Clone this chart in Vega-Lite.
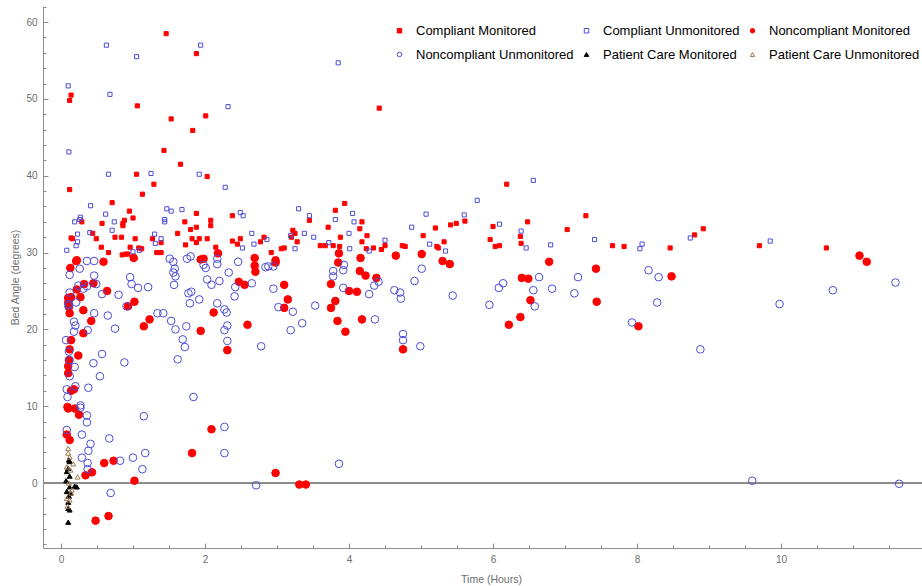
{
  "$schema": "https://vega.github.io/schema/vega-lite/v6.json",
  "width": 879,
  "height": 542,
  "autosize": {"type": "none"},
  "padding": {"left": 43, "top": 6, "right": 0, "bottom": 38},
  "background": "white",
  "config": {
    "view": {"stroke": null},
    "font": "Liberation Sans",
    "axis": {
      "domainColor": "#8c8c8c",
      "tickColor": "#8c8c8c",
      "labelColor": "#6e6e6e",
      "labelFont": "Liberation Sans",
      "labelFontSize": 10,
      "titleFont": "Liberation Sans",
      "titleFontSize": 10.5,
      "titleFontWeight": "normal",
      "titleColor": "#6e6e6e",
      "grid": false,
      "labelFlush": false,
      "labelOverlap": false
    }
  },
  "data": {
    "values": [
      {"t":0.12,"a":49.8,"g":"Compliant Monitored"},{"t":0.14,"a":50.5,"g":"Compliant Monitored"},{"t":0.12,"a":38.2,"g":"Compliant Monitored"},{"t":0.14,"a":31.9,"g":"Compliant Monitored"},{"t":0.16,"a":31.8,"g":"Compliant Monitored"},{"t":0.66,"a":30.0,"g":"Compliant Monitored"},{"t":1.46,"a":58.5,"g":"Compliant Monitored"},{"t":1.88,"a":55.9,"g":"Compliant Monitored"},{"t":1.06,"a":49.1,"g":"Compliant Monitored"},{"t":1.53,"a":47.4,"g":"Compliant Monitored"},{"t":2.01,"a":47.8,"g":"Compliant Monitored"},{"t":1.83,"a":45.9,"g":"Compliant Monitored"},{"t":1.43,"a":43.3,"g":"Compliant Monitored"},{"t":1.66,"a":41.5,"g":"Compliant Monitored"},{"t":1.05,"a":40.2,"g":"Compliant Monitored"},{"t":2.03,"a":39.9,"g":"Compliant Monitored"},{"t":1.29,"a":38.9,"g":"Compliant Monitored"},{"t":1.13,"a":37.6,"g":"Compliant Monitored"},{"t":0.71,"a":36.5,"g":"Compliant Monitored"},{"t":0.95,"a":35.4,"g":"Compliant Monitored"},{"t":1.00,"a":34.5,"g":"Compliant Monitored"},{"t":0.88,"a":34.2,"g":"Compliant Monitored"},{"t":0.86,"a":33.8,"g":"Compliant Monitored"},{"t":0.86,"a":33.5,"g":"Compliant Monitored"},{"t":0.57,"a":33.8,"g":"Compliant Monitored"},{"t":0.29,"a":34.0,"g":"Compliant Monitored"},{"t":0.44,"a":32.5,"g":"Compliant Monitored"},{"t":0.49,"a":31.8,"g":"Compliant Monitored"},{"t":0.75,"a":32.0,"g":"Compliant Monitored"},{"t":0.84,"a":32.0,"g":"Compliant Monitored"},{"t":1.03,"a":31.8,"g":"Compliant Monitored"},{"t":0.56,"a":30.7,"g":"Compliant Monitored"},{"t":0.85,"a":29.7,"g":"Compliant Monitored"},{"t":0.90,"a":29.8,"g":"Compliant Monitored"},{"t":0.93,"a":29.8,"g":"Compliant Monitored"},{"t":0.96,"a":30.7,"g":"Compliant Monitored"},{"t":1.08,"a":30.6,"g":"Compliant Monitored"},{"t":1.12,"a":30.5,"g":"Compliant Monitored"},{"t":1.27,"a":31.8,"g":"Compliant Monitored"},{"t":1.39,"a":31.3,"g":"Compliant Monitored"},{"t":1.33,"a":30.0,"g":"Compliant Monitored"},{"t":1.39,"a":30.0,"g":"Compliant Monitored"},{"t":1.62,"a":32.5,"g":"Compliant Monitored"},{"t":1.72,"a":34.0,"g":"Compliant Monitored"},{"t":1.73,"a":31.0,"g":"Compliant Monitored"},{"t":1.80,"a":33.0,"g":"Compliant Monitored"},{"t":1.82,"a":31.8,"g":"Compliant Monitored"},{"t":1.88,"a":35.1,"g":"Compliant Monitored"},{"t":1.88,"a":33.3,"g":"Compliant Monitored"},{"t":1.88,"a":31.3,"g":"Compliant Monitored"},{"t":1.92,"a":31.8,"g":"Compliant Monitored"},{"t":2.03,"a":31.8,"g":"Compliant Monitored"},{"t":2.08,"a":34.2,"g":"Compliant Monitored"},{"t":2.08,"a":33.5,"g":"Compliant Monitored"},{"t":2.15,"a":30.7,"g":"Compliant Monitored"},{"t":2.38,"a":34.8,"g":"Compliant Monitored"},{"t":2.38,"a":31.5,"g":"Compliant Monitored"},{"t":2.45,"a":31.1,"g":"Compliant Monitored"},{"t":2.49,"a":31.8,"g":"Compliant Monitored"},{"t":2.77,"a":31.4,"g":"Compliant Monitored"},{"t":2.82,"a":32.0,"g":"Compliant Monitored"},{"t":2.92,"a":30.0,"g":"Compliant Monitored"},{"t":3.06,"a":30.5,"g":"Compliant Monitored"},{"t":3.10,"a":30.6,"g":"Compliant Monitored"},{"t":3.22,"a":32.9,"g":"Compliant Monitored"},{"t":3.25,"a":32.5,"g":"Compliant Monitored"},{"t":3.28,"a":31.4,"g":"Compliant Monitored"},{"t":3.20,"a":32.0,"g":"Compliant Monitored"},{"t":4.42,"a":48.8,"g":"Compliant Monitored"},{"t":6.19,"a":38.9,"g":"Compliant Monitored"},{"t":3.94,"a":36.4,"g":"Compliant Monitored"},{"t":3.81,"a":35.5,"g":"Compliant Monitored"},{"t":3.45,"a":34.2,"g":"Compliant Monitored"},{"t":3.71,"a":33.3,"g":"Compliant Monitored"},{"t":3.88,"a":32.0,"g":"Compliant Monitored"},{"t":4.15,"a":33.1,"g":"Compliant Monitored"},{"t":4.18,"a":34.0,"g":"Compliant Monitored"},{"t":4.25,"a":32.2,"g":"Compliant Monitored"},{"t":4.18,"a":31.4,"g":"Compliant Monitored"},{"t":3.60,"a":30.9,"g":"Compliant Monitored"},{"t":3.67,"a":30.9,"g":"Compliant Monitored"},{"t":3.78,"a":30.9,"g":"Compliant Monitored"},{"t":3.87,"a":30.8,"g":"Compliant Monitored"},{"t":4.24,"a":30.5,"g":"Compliant Monitored"},{"t":4.34,"a":30.6,"g":"Compliant Monitored"},{"t":4.45,"a":30.4,"g":"Compliant Monitored"},{"t":4.50,"a":30.9,"g":"Compliant Monitored"},{"t":4.74,"a":30.9,"g":"Compliant Monitored"},{"t":4.78,"a":30.8,"g":"Compliant Monitored"},{"t":5.03,"a":32.2,"g":"Compliant Monitored"},{"t":5.20,"a":33.2,"g":"Compliant Monitored"},{"t":5.22,"a":30.8,"g":"Compliant Monitored"},{"t":5.24,"a":30.6,"g":"Compliant Monitored"},{"t":5.32,"a":31.4,"g":"Compliant Monitored"},{"t":5.41,"a":33.6,"g":"Compliant Monitored"},{"t":5.49,"a":33.8,"g":"Compliant Monitored"},{"t":5.61,"a":34.1,"g":"Compliant Monitored"},{"t":6.00,"a":33.4,"g":"Compliant Monitored"},{"t":5.96,"a":31.7,"g":"Compliant Monitored"},{"t":6.03,"a":30.8,"g":"Compliant Monitored"},{"t":6.09,"a":30.9,"g":"Compliant Monitored"},{"t":6.38,"a":32.1,"g":"Compliant Monitored"},{"t":6.39,"a":31.2,"g":"Compliant Monitored"},{"t":6.48,"a":34.0,"g":"Compliant Monitored"},{"t":7.03,"a":33.0,"g":"Compliant Monitored"},{"t":7.29,"a":34.8,"g":"Compliant Monitored"},{"t":7.66,"a":30.9,"g":"Compliant Monitored"},{"t":7.82,"a":30.8,"g":"Compliant Monitored"},{"t":8.46,"a":30.6,"g":"Compliant Monitored"},{"t":8.80,"a":32.3,"g":"Compliant Monitored"},{"t":8.92,"a":33.1,"g":"Compliant Monitored"},{"t":9.70,"a":30.9,"g":"Compliant Monitored"},{"t":10.63,"a":30.6,"g":"Compliant Monitored"},

      {"t":0.10,"a":51.7,"g":"Compliant Unmonitored"},{"t":0.11,"a":43.1,"g":"Compliant Unmonitored"},{"t":0.08,"a":30.3,"g":"Compliant Unmonitored"},{"t":0.63,"a":57.0,"g":"Compliant Unmonitored"},{"t":0.68,"a":50.6,"g":"Compliant Unmonitored"},{"t":0.66,"a":40.2,"g":"Compliant Unmonitored"},{"t":1.05,"a":55.5,"g":"Compliant Unmonitored"},{"t":1.25,"a":40.3,"g":"Compliant Unmonitored"},{"t":1.94,"a":57.0,"g":"Compliant Unmonitored"},{"t":1.92,"a":40.2,"g":"Compliant Unmonitored"},{"t":2.32,"a":49.0,"g":"Compliant Unmonitored"},{"t":2.28,"a":38.5,"g":"Compliant Unmonitored"},{"t":0.19,"a":34.0,"g":"Compliant Unmonitored"},{"t":0.26,"a":34.3,"g":"Compliant Unmonitored"},{"t":0.27,"a":34.6,"g":"Compliant Unmonitored"},{"t":0.23,"a":32.4,"g":"Compliant Unmonitored"},{"t":0.23,"a":31.4,"g":"Compliant Unmonitored"},{"t":0.21,"a":30.9,"g":"Compliant Unmonitored"},{"t":0.41,"a":36.1,"g":"Compliant Unmonitored"},{"t":0.40,"a":32.6,"g":"Compliant Unmonitored"},{"t":0.62,"a":35.0,"g":"Compliant Unmonitored"},{"t":0.74,"a":34.0,"g":"Compliant Unmonitored"},{"t":0.71,"a":32.9,"g":"Compliant Unmonitored"},{"t":1.00,"a":30.1,"g":"Compliant Unmonitored"},{"t":1.09,"a":30.3,"g":"Compliant Unmonitored"},{"t":1.30,"a":32.4,"g":"Compliant Unmonitored"},{"t":1.31,"a":31.2,"g":"Compliant Unmonitored"},{"t":1.39,"a":31.8,"g":"Compliant Unmonitored"},{"t":1.44,"a":34.3,"g":"Compliant Unmonitored"},{"t":1.44,"a":34.0,"g":"Compliant Unmonitored"},{"t":1.47,"a":35.7,"g":"Compliant Unmonitored"},{"t":1.53,"a":35.4,"g":"Compliant Unmonitored"},{"t":1.68,"a":35.6,"g":"Compliant Unmonitored"},{"t":2.49,"a":35.2,"g":"Compliant Unmonitored"},{"t":2.53,"a":34.8,"g":"Compliant Unmonitored"},{"t":2.52,"a":30.6,"g":"Compliant Unmonitored"},{"t":2.65,"a":32.5,"g":"Compliant Unmonitored"},{"t":2.68,"a":31.1,"g":"Compliant Unmonitored"},{"t":2.86,"a":31.7,"g":"Compliant Unmonitored"},{"t":3.19,"a":32.2,"g":"Compliant Unmonitored"},{"t":3.25,"a":30.5,"g":"Compliant Unmonitored"},{"t":3.30,"a":35.7,"g":"Compliant Unmonitored"},{"t":3.85,"a":54.7,"g":"Compliant Unmonitored"},{"t":6.56,"a":39.4,"g":"Compliant Unmonitored"},{"t":5.78,"a":36.8,"g":"Compliant Unmonitored"},{"t":3.45,"a":34.8,"g":"Compliant Unmonitored"},{"t":3.81,"a":34.3,"g":"Compliant Unmonitored"},{"t":4.05,"a":35.1,"g":"Compliant Unmonitored"},{"t":4.07,"a":34.0,"g":"Compliant Unmonitored"},{"t":4.00,"a":32.5,"g":"Compliant Unmonitored"},{"t":3.38,"a":32.5,"g":"Compliant Unmonitored"},{"t":3.51,"a":32.0,"g":"Compliant Unmonitored"},{"t":3.72,"a":31.3,"g":"Compliant Unmonitored"},{"t":4.01,"a":30.5,"g":"Compliant Unmonitored"},{"t":4.28,"a":30.2,"g":"Compliant Unmonitored"},{"t":4.50,"a":31.6,"g":"Compliant Unmonitored"},{"t":4.87,"a":33.3,"g":"Compliant Unmonitored"},{"t":5.07,"a":35.0,"g":"Compliant Unmonitored"},{"t":5.12,"a":31.1,"g":"Compliant Unmonitored"},{"t":5.34,"a":30.2,"g":"Compliant Unmonitored"},{"t":5.60,"a":34.9,"g":"Compliant Unmonitored"},{"t":6.09,"a":33.7,"g":"Compliant Unmonitored"},{"t":6.39,"a":32.8,"g":"Compliant Unmonitored"},{"t":6.46,"a":30.6,"g":"Compliant Unmonitored"},{"t":6.80,"a":31.0,"g":"Compliant Unmonitored"},{"t":7.41,"a":31.7,"g":"Compliant Unmonitored"},{"t":8.07,"a":31.1,"g":"Compliant Unmonitored"},{"t":8.04,"a":30.5,"g":"Compliant Unmonitored"},{"t":8.74,"a":31.9,"g":"Compliant Unmonitored"},{"t":9.85,"a":31.5,"g":"Compliant Unmonitored"},

      {"t":0.13,"a":28.0,"g":"Noncompliant Monitored"},{"t":0.21,"a":28.9,"g":"Noncompliant Monitored"},{"t":0.22,"a":29.0,"g":"Noncompliant Monitored"},{"t":0.59,"a":28.8,"g":"Noncompliant Monitored"},{"t":1.01,"a":29.3,"g":"Noncompliant Monitored"},{"t":1.94,"a":29.1,"g":"Noncompliant Monitored"},{"t":1.98,"a":29.2,"g":"Noncompliant Monitored"},{"t":2.18,"a":29.9,"g":"Noncompliant Monitored"},{"t":2.69,"a":29.3,"g":"Noncompliant Monitored"},{"t":2.69,"a":28.3,"g":"Noncompliant Monitored"},{"t":2.70,"a":27.5,"g":"Noncompliant Monitored"},{"t":2.98,"a":29.0,"g":"Noncompliant Monitored"},{"t":2.98,"a":28.7,"g":"Noncompliant Monitored"},{"t":3.10,"a":25.8,"g":"Noncompliant Monitored"},{"t":0.64,"a":25.0,"g":"Noncompliant Monitored"},{"t":0.22,"a":25.2,"g":"Noncompliant Monitored"},{"t":0.32,"a":25.9,"g":"Noncompliant Monitored"},{"t":0.45,"a":26.0,"g":"Noncompliant Monitored"},{"t":0.10,"a":24.1,"g":"Noncompliant Monitored"},{"t":0.14,"a":24.2,"g":"Noncompliant Monitored"},{"t":0.10,"a":23.5,"g":"Noncompliant Monitored"},{"t":0.11,"a":22.9,"g":"Noncompliant Monitored"},{"t":0.12,"a":22.1,"g":"Noncompliant Monitored"},{"t":3.15,"a":23.9,"g":"Noncompliant Monitored"},{"t":2.47,"a":26.2,"g":"Noncompliant Monitored"},{"t":2.55,"a":25.8,"g":"Noncompliant Monitored"},{"t":0.27,"a":24.2,"g":"Noncompliant Monitored"},{"t":0.31,"a":22.5,"g":"Noncompliant Monitored"},{"t":0.42,"a":21.1,"g":"Noncompliant Monitored"},{"t":0.31,"a":19.5,"g":"Noncompliant Monitored"},{"t":0.14,"a":18.6,"g":"Noncompliant Monitored"},{"t":0.12,"a":17.4,"g":"Noncompliant Monitored"},{"t":0.11,"a":16.0,"g":"Noncompliant Monitored"},{"t":0.24,"a":16.6,"g":"Noncompliant Monitored"},{"t":0.10,"a":15.2,"g":"Noncompliant Monitored"},{"t":0.10,"a":14.3,"g":"Noncompliant Monitored"},{"t":0.14,"a":12.0,"g":"Noncompliant Monitored"},{"t":0.18,"a":12.2,"g":"Noncompliant Monitored"},{"t":0.09,"a":9.9,"g":"Noncompliant Monitored"},{"t":0.10,"a":9.7,"g":"Noncompliant Monitored"},{"t":0.19,"a":9.7,"g":"Noncompliant Monitored"},{"t":0.25,"a":8.9,"g":"Noncompliant Monitored"},{"t":0.08,"a":6.3,"g":"Noncompliant Monitored"},{"t":0.12,"a":5.6,"g":"Noncompliant Monitored"},{"t":0.34,"a":1.0,"g":"Noncompliant Monitored"},{"t":0.43,"a":1.4,"g":"Noncompliant Monitored"},{"t":0.60,"a":2.6,"g":"Noncompliant Monitored"},{"t":0.73,"a":2.9,"g":"Noncompliant Monitored"},{"t":1.02,"a":0.3,"g":"Noncompliant Monitored"},{"t":0.48,"a":-4.9,"g":"Noncompliant Monitored"},{"t":0.66,"a":-4.3,"g":"Noncompliant Monitored"},{"t":0.93,"a":23.0,"g":"Noncompliant Monitored"},{"t":1.02,"a":23.6,"g":"Noncompliant Monitored"},{"t":1.15,"a":20.4,"g":"Noncompliant Monitored"},{"t":1.23,"a":21.3,"g":"Noncompliant Monitored"},{"t":1.94,"a":19.8,"g":"Noncompliant Monitored"},{"t":2.12,"a":22.2,"g":"Noncompliant Monitored"},{"t":2.31,"a":17.3,"g":"Noncompliant Monitored"},{"t":2.59,"a":20.6,"g":"Noncompliant Monitored"},{"t":2.09,"a":7.0,"g":"Noncompliant Monitored"},{"t":1.82,"a":3.9,"g":"Noncompliant Monitored"},{"t":2.98,"a":1.3,"g":"Noncompliant Monitored"},{"t":3.31,"a":-0.2,"g":"Noncompliant Monitored"},{"t":3.40,"a":-0.2,"g":"Noncompliant Monitored"},{"t":3.10,"a":22.8,"g":"Noncompliant Monitored"},{"t":4.16,"a":29.3,"g":"Noncompliant Monitored"},{"t":4.65,"a":29.6,"g":"Noncompliant Monitored"},{"t":5.01,"a":29.8,"g":"Noncompliant Monitored"},{"t":5.30,"a":28.9,"g":"Noncompliant Monitored"},{"t":5.40,"a":28.5,"g":"Noncompliant Monitored"},{"t":6.78,"a":28.8,"g":"Noncompliant Monitored"},{"t":7.43,"a":27.9,"g":"Noncompliant Monitored"},{"t":3.86,"a":29.9,"g":"Noncompliant Monitored"},{"t":3.85,"a":28.7,"g":"Noncompliant Monitored"},{"t":4.15,"a":27.6,"g":"Noncompliant Monitored"},{"t":4.23,"a":27.0,"g":"Noncompliant Monitored"},{"t":4.38,"a":26.7,"g":"Noncompliant Monitored"},{"t":4.00,"a":25.0,"g":"Noncompliant Monitored"},{"t":4.11,"a":24.9,"g":"Noncompliant Monitored"},{"t":6.40,"a":26.7,"g":"Noncompliant Monitored"},{"t":6.49,"a":26.6,"g":"Noncompliant Monitored"},{"t":6.52,"a":23.8,"g":"Noncompliant Monitored"},{"t":7.44,"a":23.6,"g":"Noncompliant Monitored"},{"t":3.75,"a":25.9,"g":"Noncompliant Monitored"},{"t":3.81,"a":23.7,"g":"Noncompliant Monitored"},{"t":3.75,"a":22.8,"g":"Noncompliant Monitored"},{"t":3.84,"a":21.1,"g":"Noncompliant Monitored"},{"t":3.95,"a":19.7,"g":"Noncompliant Monitored"},{"t":4.18,"a":21.3,"g":"Noncompliant Monitored"},{"t":4.75,"a":17.4,"g":"Noncompliant Monitored"},{"t":6.22,"a":20.6,"g":"Noncompliant Monitored"},{"t":6.38,"a":21.6,"g":"Noncompliant Monitored"},{"t":11.09,"a":29.6,"g":"Noncompliant Monitored"},{"t":11.19,"a":28.8,"g":"Noncompliant Monitored"},{"t":8.48,"a":26.9,"g":"Noncompliant Monitored"},{"t":8.02,"a":20.4,"g":"Noncompliant Monitored"},

      {"t":0.12,"a":27.1,"g":"Noncompliant Unmonitored"},{"t":0.26,"a":27.9,"g":"Noncompliant Unmonitored"},{"t":0.36,"a":28.9,"g":"Noncompliant Unmonitored"},{"t":0.46,"a":28.9,"g":"Noncompliant Unmonitored"},{"t":0.46,"a":27.0,"g":"Noncompliant Unmonitored"},{"t":0.49,"a":25.9,"g":"Noncompliant Unmonitored"},{"t":0.57,"a":24.6,"g":"Noncompliant Unmonitored"},{"t":0.80,"a":24.5,"g":"Noncompliant Unmonitored"},{"t":0.96,"a":26.8,"g":"Noncompliant Unmonitored"},{"t":0.98,"a":25.9,"g":"Noncompliant Unmonitored"},{"t":1.07,"a":25.4,"g":"Noncompliant Unmonitored"},{"t":1.21,"a":25.5,"g":"Noncompliant Unmonitored"},{"t":1.51,"a":29.2,"g":"Noncompliant Unmonitored"},{"t":1.56,"a":28.8,"g":"Noncompliant Unmonitored"},{"t":1.58,"a":27.9,"g":"Noncompliant Unmonitored"},{"t":1.59,"a":26.9,"g":"Noncompliant Unmonitored"},{"t":1.57,"a":25.8,"g":"Noncompliant Unmonitored"},{"t":1.56,"a":27.4,"g":"Noncompliant Unmonitored"},{"t":1.75,"a":29.2,"g":"Noncompliant Unmonitored"},{"t":1.80,"a":29.5,"g":"Noncompliant Unmonitored"},{"t":1.77,"a":24.7,"g":"Noncompliant Unmonitored"},{"t":1.81,"a":24.9,"g":"Noncompliant Unmonitored"},{"t":1.98,"a":28.4,"g":"Noncompliant Unmonitored"},{"t":2.01,"a":28.0,"g":"Noncompliant Unmonitored"},{"t":2.03,"a":26.5,"g":"Noncompliant Unmonitored"},{"t":2.09,"a":25.8,"g":"Noncompliant Unmonitored"},{"t":2.17,"a":29.2,"g":"Noncompliant Unmonitored"},{"t":2.17,"a":28.5,"g":"Noncompliant Unmonitored"},{"t":2.20,"a":26.3,"g":"Noncompliant Unmonitored"},{"t":2.33,"a":27.4,"g":"Noncompliant Unmonitored"},{"t":2.46,"a":28.8,"g":"Noncompliant Unmonitored"},{"t":2.42,"a":25.5,"g":"Noncompliant Unmonitored"},{"t":2.65,"a":26.0,"g":"Noncompliant Unmonitored"},{"t":2.84,"a":28.1,"g":"Noncompliant Unmonitored"},{"t":2.88,"a":28.2,"g":"Noncompliant Unmonitored"},{"t":2.95,"a":28.2,"g":"Noncompliant Unmonitored"},{"t":2.95,"a":25.3,"g":"Noncompliant Unmonitored"},{"t":2.41,"a":24.3,"g":"Noncompliant Unmonitored"},{"t":1.92,"a":23.9,"g":"Noncompliant Unmonitored"},
      {"t":0.12,"a":24.8,"g":"Noncompliant Unmonitored"},{"t":0.24,"a":25.7,"g":"Noncompliant Unmonitored"},{"t":0.31,"a":25.3,"g":"Noncompliant Unmonitored"},{"t":0.36,"a":25.6,"g":"Noncompliant Unmonitored"},{"t":0.11,"a":23.3,"g":"Noncompliant Unmonitored"},{"t":0.10,"a":23.1,"g":"Noncompliant Unmonitored"},{"t":0.21,"a":23.5,"g":"Noncompliant Unmonitored"},{"t":0.46,"a":22.1,"g":"Noncompliant Unmonitored"},{"t":0.65,"a":21.8,"g":"Noncompliant Unmonitored"},{"t":0.75,"a":20.1,"g":"Noncompliant Unmonitored"},{"t":0.91,"a":23.0,"g":"Noncompliant Unmonitored"},{"t":0.07,"a":18.6,"g":"Noncompliant Unmonitored"},{"t":0.11,"a":17.1,"g":"Noncompliant Unmonitored"},{"t":0.12,"a":16.0,"g":"Noncompliant Unmonitored"},{"t":0.18,"a":21.0,"g":"Noncompliant Unmonitored"},{"t":0.20,"a":20.5,"g":"Noncompliant Unmonitored"},{"t":0.18,"a":19.7,"g":"Noncompliant Unmonitored"},{"t":0.37,"a":19.9,"g":"Noncompliant Unmonitored"},{"t":0.45,"a":15.6,"g":"Noncompliant Unmonitored"},{"t":0.57,"a":16.8,"g":"Noncompliant Unmonitored"},{"t":0.54,"a":13.9,"g":"Noncompliant Unmonitored"},{"t":0.19,"a":15.1,"g":"Noncompliant Unmonitored"},{"t":0.12,"a":13.9,"g":"Noncompliant Unmonitored"},{"t":0.08,"a":12.2,"g":"Noncompliant Unmonitored"},{"t":0.09,"a":11.2,"g":"Noncompliant Unmonitored"},{"t":0.20,"a":12.6,"g":"Noncompliant Unmonitored"},{"t":0.38,"a":12.4,"g":"Noncompliant Unmonitored"},{"t":0.27,"a":10.1,"g":"Noncompliant Unmonitored"},{"t":0.27,"a":9.8,"g":"Noncompliant Unmonitored"},{"t":0.36,"a":8.8,"g":"Noncompliant Unmonitored"},{"t":0.36,"a":7.9,"g":"Noncompliant Unmonitored"},{"t":0.29,"a":6.3,"g":"Noncompliant Unmonitored"},{"t":0.08,"a":6.9,"g":"Noncompliant Unmonitored"},{"t":0.41,"a":5.1,"g":"Noncompliant Unmonitored"},{"t":0.38,"a":4.2,"g":"Noncompliant Unmonitored"},{"t":0.29,"a":3.3,"g":"Noncompliant Unmonitored"},{"t":0.37,"a":2.6,"g":"Noncompliant Unmonitored"},{"t":0.37,"a":1.8,"g":"Noncompliant Unmonitored"},{"t":0.67,"a":5.8,"g":"Noncompliant Unmonitored"},{"t":0.69,"a":-1.3,"g":"Noncompliant Unmonitored"},{"t":0.82,"a":2.9,"g":"Noncompliant Unmonitored"},{"t":1.00,"a":3.3,"g":"Noncompliant Unmonitored"},{"t":1.13,"a":1.8,"g":"Noncompliant Unmonitored"},{"t":1.17,"a":3.9,"g":"Noncompliant Unmonitored"},{"t":1.15,"a":8.7,"g":"Noncompliant Unmonitored"},{"t":0.88,"a":15.7,"g":"Noncompliant Unmonitored"},{"t":1.34,"a":22.1,"g":"Noncompliant Unmonitored"},{"t":1.42,"a":22.1,"g":"Noncompliant Unmonitored"},{"t":1.53,"a":21.1,"g":"Noncompliant Unmonitored"},{"t":1.59,"a":20.0,"g":"Noncompliant Unmonitored"},{"t":1.62,"a":16.1,"g":"Noncompliant Unmonitored"},{"t":1.69,"a":18.7,"g":"Noncompliant Unmonitored"},{"t":1.72,"a":17.7,"g":"Noncompliant Unmonitored"},{"t":1.74,"a":20.4,"g":"Noncompliant Unmonitored"},{"t":1.79,"a":23.4,"g":"Noncompliant Unmonitored"},{"t":1.84,"a":11.2,"g":"Noncompliant Unmonitored"},{"t":2.17,"a":23.4,"g":"Noncompliant Unmonitored"},{"t":2.27,"a":22.6,"g":"Noncompliant Unmonitored"},{"t":2.30,"a":22.2,"g":"Noncompliant Unmonitored"},{"t":2.31,"a":20.5,"g":"Noncompliant Unmonitored"},{"t":2.27,"a":19.9,"g":"Noncompliant Unmonitored"},{"t":2.31,"a":18.5,"g":"Noncompliant Unmonitored"},{"t":2.27,"a":7.3,"g":"Noncompliant Unmonitored"},{"t":2.27,"a":3.9,"g":"Noncompliant Unmonitored"},{"t":2.78,"a":17.8,"g":"Noncompliant Unmonitored"},{"t":2.71,"a":-0.3,"g":"Noncompliant Unmonitored"},{"t":3.02,"a":22.9,"g":"Noncompliant Unmonitored"},{"t":3.19,"a":19.9,"g":"Noncompliant Unmonitored"},
      {"t":3.93,"a":28.4,"g":"Noncompliant Unmonitored"},{"t":3.92,"a":27.7,"g":"Noncompliant Unmonitored"},{"t":3.78,"a":27.6,"g":"Noncompliant Unmonitored"},{"t":3.78,"a":26.9,"g":"Noncompliant Unmonitored"},{"t":3.92,"a":25.4,"g":"Noncompliant Unmonitored"},{"t":4.41,"a":26.2,"g":"Noncompliant Unmonitored"},{"t":4.35,"a":25.7,"g":"Noncompliant Unmonitored"},{"t":4.28,"a":24.6,"g":"Noncompliant Unmonitored"},{"t":4.63,"a":25.1,"g":"Noncompliant Unmonitored"},{"t":4.71,"a":24.8,"g":"Noncompliant Unmonitored"},{"t":4.72,"a":24.0,"g":"Noncompliant Unmonitored"},{"t":4.91,"a":26.3,"g":"Noncompliant Unmonitored"},{"t":5.01,"a":27.9,"g":"Noncompliant Unmonitored"},{"t":5.44,"a":24.4,"g":"Noncompliant Unmonitored"},{"t":6.14,"a":26.0,"g":"Noncompliant Unmonitored"},{"t":6.08,"a":25.4,"g":"Noncompliant Unmonitored"},{"t":6.64,"a":26.8,"g":"Noncompliant Unmonitored"},{"t":6.56,"a":25.1,"g":"Noncompliant Unmonitored"},{"t":6.82,"a":25.3,"g":"Noncompliant Unmonitored"},{"t":7.18,"a":26.8,"g":"Noncompliant Unmonitored"},{"t":7.13,"a":24.7,"g":"Noncompliant Unmonitored"},{"t":3.22,"a":22.3,"g":"Noncompliant Unmonitored"},{"t":3.35,"a":20.8,"g":"Noncompliant Unmonitored"},{"t":3.53,"a":23.1,"g":"Noncompliant Unmonitored"},{"t":4.36,"a":21.3,"g":"Noncompliant Unmonitored"},{"t":4.75,"a":19.4,"g":"Noncompliant Unmonitored"},{"t":4.75,"a":18.6,"g":"Noncompliant Unmonitored"},{"t":4.99,"a":17.8,"g":"Noncompliant Unmonitored"},{"t":5.95,"a":23.2,"g":"Noncompliant Unmonitored"},{"t":6.58,"a":23.0,"g":"Noncompliant Unmonitored"},{"t":3.86,"a":2.5,"g":"Noncompliant Unmonitored"},{"t":8.16,"a":27.7,"g":"Noncompliant Unmonitored"},{"t":8.30,"a":26.8,"g":"Noncompliant Unmonitored"},{"t":10.72,"a":25.1,"g":"Noncompliant Unmonitored"},{"t":11.59,"a":26.1,"g":"Noncompliant Unmonitored"},{"t":8.28,"a":23.5,"g":"Noncompliant Unmonitored"},{"t":7.93,"a":20.9,"g":"Noncompliant Unmonitored"},{"t":8.88,"a":17.4,"g":"Noncompliant Unmonitored"},{"t":9.98,"a":23.3,"g":"Noncompliant Unmonitored"},{"t":9.60,"a":0.3,"g":"Noncompliant Unmonitored"},{"t":11.64,"a":-0.1,"g":"Noncompliant Unmonitored"},

      {"t":0.10,"a":-5.1,"g":"Patient Care Monitored"},{"t":0.10,"a":-3.3,"g":"Patient Care Monitored"},{"t":0.12,"a":-3.5,"g":"Patient Care Monitored"},{"t":0.10,"a":-2.5,"g":"Patient Care Monitored"},{"t":0.11,"a":-1.7,"g":"Patient Care Monitored"},{"t":0.08,"a":-1.1,"g":"Patient Care Monitored"},{"t":0.12,"a":-0.5,"g":"Patient Care Monitored"},{"t":0.19,"a":-0.4,"g":"Patient Care Monitored"},{"t":0.22,"a":-0.5,"g":"Patient Care Monitored"},{"t":0.07,"a":0.3,"g":"Patient Care Monitored"},{"t":0.12,"a":0.9,"g":"Patient Care Monitored"},{"t":0.08,"a":1.5,"g":"Patient Care Monitored"},{"t":0.10,"a":1.9,"g":"Patient Care Monitored"},{"t":0.12,"a":2.8,"g":"Patient Care Monitored"},{"t":0.11,"a":3.0,"g":"Patient Care Monitored"},{"t":0.13,"a":-1.3,"g":"Patient Care Monitored"},

      {"t":0.10,"a":3.9,"g":"Patient Care Unmonitored"},{"t":0.10,"a":4.5,"g":"Patient Care Unmonitored"},{"t":0.17,"a":2.5,"g":"Patient Care Unmonitored"},{"t":0.08,"a":2.1,"g":"Patient Care Unmonitored"},{"t":0.13,"a":1.7,"g":"Patient Care Unmonitored"},{"t":0.23,"a":0.8,"g":"Patient Care Unmonitored"},{"t":0.14,"a":-1.3,"g":"Patient Care Unmonitored"},{"t":0.08,"a":-2.0,"g":"Patient Care Unmonitored"},{"t":0.12,"a":-2.2,"g":"Patient Care Unmonitored"},{"t":0.15,"a":-0.9,"g":"Patient Care Unmonitored"},{"t":0.11,"a":0.0,"g":"Patient Care Unmonitored"},{"t":0.09,"a":-3.0,"g":"Patient Care Unmonitored"},{"t":0.12,"a":3.4,"g":"Patient Care Unmonitored"}
    ]
  },
  "encoding": {
    "x": {
      "field": "t", "type": "quantitative",
      "scale": {"domain": [-0.25, 11.958], "nice": false, "zero": false},
      "axis": {
        "title": "Time (Hours)",
        "format": "~g",
        "values": [0,0.5,1,1.5,2,2.5,3,3.5,4,4.5,5,5.5,6,6.5,7,7.5,8,8.5,9,9.5,10,10.5,11,11.5],
        "labelExpr": "datum.value % 2 === 0 ? datum.label : ''",
        "tickSize": {"condition": {"test": "datum.value % 2 === 0", "value": -5}, "value": -3},
        "labelPadding": 11,
        "titleX": 448, "titleY": 31, "titleBaseline": "middle", "titleAlign": "center"
      }
    },
    "y": {
      "field": "a", "type": "quantitative",
      "scale": {"domain": [-8.46, 62.1], "nice": false, "zero": false},
      "axis": {
        "title": "Bed Angle (degrees)",
        "format": "~g",
        "values": [-8,-6,-4,-2,0,2,4,6,8,10,12,14,16,18,20,22,24,26,28,30,32,34,36,38,40,42,44,46,48,50,52,54,56,58,60,62],
        "labelExpr": "datum.value % 10 === 0 ? datum.label : ''",
        "tickSize": {"condition": {"test": "datum.value % 10 === 0", "value": -5}, "value": -3},
        "labelPadding": 11,
        "titleX": -28, "titleY": 271, "titleAngle": -90, "titleBaseline": "middle", "titleAlign": "center"
      }
    },
    "shape": {
      "field": "g", "type": "nominal",
      "scale": {
        "domain": ["Compliant Monitored","Compliant Unmonitored","Noncompliant Monitored","Noncompliant Unmonitored","Patient Care Monitored","Patient Care Unmonitored"],
        "range": ["square","square","circle","circle","triangle-up","triangle-up"]
      },
      "legend": {"orient": "none", "legendX": 350, "legendY": 18, "columns": 3, "direction": "horizontal", "title": null, "padding": 0, "labelFont": "Liberation Sans", "labelFontSize": 13, "labelColor": "#000000", "symbolSize": 20, "symbolStrokeWidth": 1, "rowPadding": 10, "columnPadding": 6, "labelOffset": 10, "labelLimit": 300}
    },
    "fill": {
      "field": "g", "type": "nominal",
      "scale": {
        "domain": ["Compliant Monitored","Compliant Unmonitored","Noncompliant Monitored","Noncompliant Unmonitored","Patient Care Monitored","Patient Care Unmonitored"],
        "range": ["#ff0000","transparent","#ff0000","transparent","#000000","transparent"]
      },
      "legend": {"orient": "none", "legendX": 350, "legendY": 18, "columns": 3, "direction": "horizontal", "title": null, "padding": 0, "labelFont": "Liberation Sans", "labelFontSize": 13, "labelColor": "#000000", "symbolSize": 20, "symbolStrokeWidth": 1, "rowPadding": 10, "columnPadding": 6, "labelOffset": 10, "labelLimit": 300}
    },
    "stroke": {
      "field": "g", "type": "nominal",
      "scale": {
        "domain": ["Compliant Monitored","Compliant Unmonitored","Noncompliant Monitored","Noncompliant Unmonitored","Patient Care Monitored","Patient Care Unmonitored"],
        "range": ["#ff0000","#4c4cd6","#ff0000","#4c4cd6","#000000","#9e7a56"]
      },
      "legend": {"orient": "none", "legendX": 350, "legendY": 18, "columns": 3, "direction": "horizontal", "title": null, "padding": 0, "labelFont": "Liberation Sans", "labelFontSize": 13, "labelColor": "#000000", "symbolSize": 20, "symbolStrokeWidth": 1, "rowPadding": 10, "columnPadding": 6, "labelOffset": 10, "labelLimit": 300}
    }
  },
  "layer": [
    {
      "mark": {"type": "rule", "color": "#8c8c8c", "strokeWidth": 1},
      "encoding": {"y": {"datum": 0}, "x": {"value": 0}, "x2": {"value": 879}, "shape": null, "fill": null, "stroke": null}
    },
    {
      "transform": [{"filter": {"field": "g", "oneOf": ["Compliant Monitored", "Compliant Unmonitored"]}}],
      "mark": {"type": "point", "strokeWidth": 1, "opacity": 1, "size": 17}
    },
    {
      "transform": [{"filter": {"field": "g", "oneOf": ["Noncompliant Monitored", "Noncompliant Unmonitored"]}}],
      "mark": {"type": "point", "strokeWidth": 1, "opacity": 1, "size": 58}
    },
    {
      "transform": [{"filter": {"field": "g", "oneOf": ["Patient Care Monitored", "Patient Care Unmonitored"]}}],
      "mark": {"type": "point", "strokeWidth": 1, "opacity": 1, "size": 25}
    }
  ]
}
